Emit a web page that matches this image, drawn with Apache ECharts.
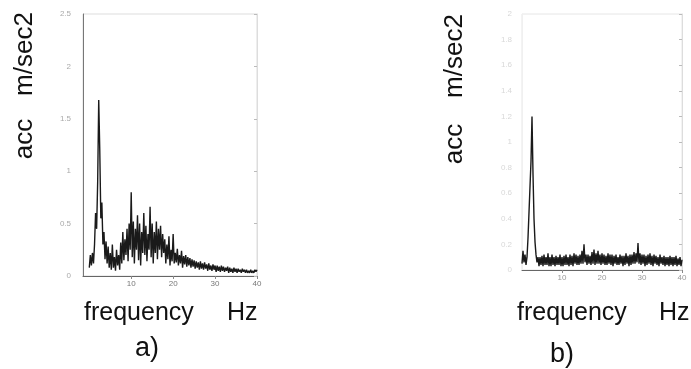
<!DOCTYPE html>
<html>
<head>
<meta charset="utf-8">
<script src="https://cdn.jsdelivr.net/npm/echarts@6/dist/echarts.min.js"></script>
<style>
  html, body { margin: 0; padding: 0; background: #fff; }
  #chart { width: 691px; height: 369px; }
</style>
</head>
<body>
<div id="chart"></div>
<script>
// spectra, one value every 0.25 Hz from 0 to 40 Hz
const freqStep = 0.25;

// a) acc spectrum, m/sec2
const accA = [
  0.08,
  0.2, 0.1, 0.22, 0.12,          // -> 1 Hz
  0.3, 0.6, 0.45, 0.9,           // -> 2
  1.68, 1.2, 0.55, 0.7,          // -> 3
  0.3, 0.42, 0.16, 0.33,         // -> 4
  0.12, 0.28, 0.08, 0.22,        // -> 5
  0.06, 0.3, 0.08, 0.18,         // -> 6
  0.05, 0.25, 0.1, 0.2,          // -> 7
  0.06, 0.32, 0.12, 0.42,        // -> 8
  0.15, 0.35, 0.2, 0.45,         // -> 9
  0.14, 0.5, 0.25, 0.8,          // -> 10
  0.18, 0.52, 0.12, 0.45,        // -> 11
  0.25, 0.58, 0.15, 0.5,         // -> 12
  0.1, 0.42, 0.22, 0.6,          // -> 13
  0.2, 0.48, 0.14, 0.4,          // -> 14
  0.25, 0.66, 0.18, 0.5,         // -> 15
  0.12, 0.42, 0.22, 0.52,        // -> 16
  0.16, 0.45, 0.25, 0.48,        // -> 17
  0.18, 0.4, 0.22, 0.35,         // -> 18
  0.12, 0.3, 0.16, 0.38,         // -> 19
  0.1, 0.25, 0.14, 0.4,          // -> 20
  0.12, 0.22, 0.13, 0.26,        // -> 21
  0.1, 0.2, 0.12, 0.24,          // -> 22
  0.08, 0.19, 0.11, 0.2,         // -> 23
  0.09, 0.18, 0.1, 0.17,         // -> 24
  0.08, 0.16, 0.09, 0.15,        // -> 25
  0.07, 0.14, 0.08, 0.13,        // -> 26
  0.06, 0.14, 0.07, 0.12,        // -> 27
  0.06, 0.13, 0.07, 0.11,        // -> 28
  0.05, 0.12, 0.06, 0.1,         // -> 29
  0.05, 0.11, 0.06, 0.1,         // -> 30
  0.04, 0.1, 0.05, 0.09,         // -> 31
  0.04, 0.1, 0.05, 0.09,         // -> 32
  0.04, 0.08, 0.05, 0.09,        // -> 33
  0.03, 0.08, 0.04, 0.07,        // -> 34
  0.03, 0.08, 0.04, 0.07,        // -> 35
  0.03, 0.07, 0.04, 0.06,        // -> 36
  0.03, 0.07, 0.04, 0.06,        // -> 37
  0.03, 0.06, 0.03, 0.05,        // -> 38
  0.03, 0.06, 0.03, 0.05,        // -> 39
  0.03, 0.06, 0.04, 0.06         // -> 40
];

// b) acc spectrum, m/sec2
const accB = [
  0.05,
  0.15, 0.06, 0.12, 0.04,        // -> 1 Hz
  0.1, 0.25, 0.45, 0.65,         // -> 2
  0.85, 1.2, 0.75, 0.4,          // -> 3
  0.22, 0.12, 0.06, 0.1,         // -> 4
  0.03, 0.1, 0.04, 0.11,         // -> 5
  0.03, 0.12, 0.04, 0.1,         // -> 6
  0.04, 0.13, 0.03, 0.1,         // -> 7
  0.03, 0.12, 0.04, 0.1,         // -> 8
  0.03, 0.11, 0.04, 0.1,         // -> 9
  0.04, 0.12, 0.03, 0.1,         // -> 10
  0.03, 0.11, 0.04, 0.12,        // -> 11
  0.04, 0.1, 0.03, 0.12,         // -> 12
  0.04, 0.11, 0.03, 0.13,        // -> 13
  0.05, 0.12, 0.04, 0.11,        // -> 14
  0.04, 0.12, 0.05, 0.15,        // -> 15
  0.05, 0.2, 0.06, 0.12,         // -> 16
  0.04, 0.12, 0.05, 0.11,        // -> 17
  0.04, 0.14, 0.05, 0.16,        // -> 18
  0.04, 0.13, 0.05, 0.15,        // -> 19
  0.05, 0.12, 0.04, 0.13,        // -> 20
  0.05, 0.12, 0.04, 0.11,        // -> 21
  0.04, 0.13, 0.05, 0.12,        // -> 22
  0.04, 0.12, 0.03, 0.11,        // -> 23
  0.05, 0.12, 0.04, 0.1,         // -> 24
  0.04, 0.12, 0.05, 0.11,        // -> 25
  0.03, 0.11, 0.04, 0.13,        // -> 26
  0.05, 0.11, 0.03, 0.12,        // -> 27
  0.04, 0.12, 0.05, 0.14,        // -> 28
  0.05, 0.13, 0.06, 0.21,        // -> 29
  0.05, 0.13, 0.04, 0.12,        // -> 30
  0.05, 0.12, 0.03, 0.11,        // -> 31
  0.04, 0.12, 0.05, 0.13,        // -> 32
  0.04, 0.11, 0.03, 0.12,        // -> 33
  0.05, 0.11, 0.04, 0.1,         // -> 34
  0.03, 0.12, 0.05, 0.1,         // -> 35
  0.04, 0.11, 0.03, 0.1,         // -> 36
  0.04, 0.1, 0.03, 0.11,         // -> 37
  0.04, 0.1, 0.03, 0.1,          // -> 38
  0.04, 0.11, 0.03, 0.09,        // -> 39
  0.04, 0.1, 0.03, 0.08          // -> 40
];

const freqTicks = [10, 20, 30, 40];
const font = "'Liberation Sans', Arial, sans-serif";

function pairs(vals) {
  return vals.map(function (v, i) { return [i * freqStep, v]; });
}

const mychart = echarts.init(document.getElementById('chart'));

function freqAxis(gridIndex, min, labelColor) {
  return {
    type: 'value',
    gridIndex: gridIndex,
    min: min,
    max: 40,
    axisLine: { show: true, onZero: false, lineStyle: { color: '#666', width: 1 } },
    axisTick: { show: true, length: 3, customValues: freqTicks, lineStyle: { color: '#888' } },
    axisLabel: { customValues: freqTicks, color: labelColor, fontSize: 8, margin: 4, fontFamily: font },
    splitLine: { show: false }
  };
}

function accAxis(gridIndex, max, interval, lineColor, labelColor, margin) {
  return {
    type: 'value',
    gridIndex: gridIndex,
    min: 0,
    max: max,
    interval: interval,
    axisLine: { show: true, onZero: false, lineStyle: { color: lineColor, width: 1 } },
    axisTick: { show: false },
    axisLabel: { color: labelColor, fontSize: 8, margin: margin, fontFamily: font },
    splitLine: { show: false }
  };
}

function rightAxis(gridIndex, max, interval) {
  return {
    type: 'value',
    gridIndex: gridIndex,
    position: 'right',
    min: 0,
    max: max,
    interval: interval,
    axisLine: { show: true, onZero: false, lineStyle: { color: '#ddd', width: 1 } },
    axisTick: { show: true, inside: true, length: 3, lineStyle: { color: '#bbb' } },
    axisLabel: { show: false },
    splitLine: { show: false }
  };
}

function label(text, x, y, size, rotate) {
  return {
    type: 'text',
    x: x,
    y: y,
    rotation: rotate ? Math.PI / 2 : 0,
    style: {
      text: text,
      fill: '#111',
      font: size + 'px ' + font,
      align: rotate ? 'center' : 'left',
      verticalAlign: 'middle'
    }
  };
}

const option = {
  animation: false,
  backgroundColor: '#fff',
  grid: [
    { left: 83, top: 14, width: 174, height: 262, show: true, borderColor: '#ddd', borderWidth: 1 },
    { left: 522, top: 14, width: 160, height: 256, show: true, borderColor: '#e6e6e6', borderWidth: 1 }
  ],
  xAxis: [
    freqAxis(0, -1.5, '#777'),
    freqAxis(1, 0, '#999')
  ],
  yAxis: [
    accAxis(0, 2.5, 0.5, '#777', '#aaa', 12),
    accAxis(1, 2, 0.2, '#f0f0f0', '#d8d8d8', 10),
    rightAxis(0, 2.5, 0.5),
    rightAxis(1, 2, 0.2)
  ],
  series: [
    {
      name: 'a',
      type: 'line',
      xAxisIndex: 0,
      yAxisIndex: 0,
      data: pairs(accA),
      showSymbol: false,
      lineStyle: { color: '#1a1a1a', width: 1.4 }
    },
    {
      name: 'b',
      type: 'line',
      xAxisIndex: 1,
      yAxisIndex: 1,
      data: pairs(accB),
      showSymbol: false,
      lineStyle: { color: '#1a1a1a', width: 1.4 }
    }
  ],
  graphic: [
    label('m/sec2', 25, 54, 26, true),
    label('acc', 25, 139, 26, true),
    label('m/sec2', 455, 56, 26, true),
    label('acc', 455, 144, 26, true),
    label('frequency', 84, 313, 25, false),
    label('Hz', 227, 313, 25, false),
    label('frequency', 517, 313, 25, false),
    label('Hz', 659, 313, 25, false),
    label('a)', 135, 349, 27, false),
    label('b)', 550, 355, 27, false)
  ]
};

mychart.setOption(option);

window.addEventListener('resize', function () {
  mychart.resize();
});
</script>
</body>
</html>
